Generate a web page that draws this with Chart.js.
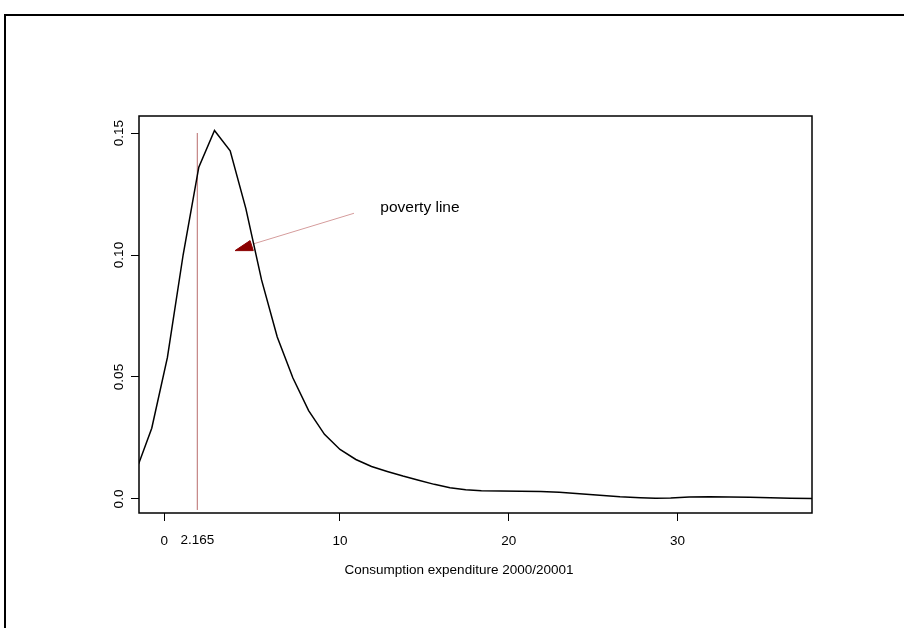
<!DOCTYPE html>
<html><head><meta charset="utf-8">
<script src="https://cdn.jsdelivr.net/npm/chart.js@4/dist/chart.umd.min.js"></script>
<style>html,body{margin:0;padding:0;background:#fff}#wrap{width:904px;height:628px;position:relative}</style>
</head><body><div id="wrap"><canvas id="c" width="904" height="628"></canvas></div>
<script>
// ---- data ----
const densityX = [-1.94, -1.16, -0.23, 0.70, 1.63, 2.56, 3.49, 4.42, 5.35, 6.28, 7.21, 8.14, 9.08, 10.0, 10.94, 11.87, 12.80, 13.73, 14.66, 15.59, 16.52, 17.45, 18.38, 19.5, 20.7, 21.9, 23.0, 24.2, 25.4, 26.6, 27.8, 28.7, 29.6, 30.7, 31.9, 33.1, 34.3, 35.5, 36.7, 38.0];
const densityY = [0.0143, 0.029, 0.058, 0.100, 0.136, 0.151, 0.1427, 0.119, 0.0898, 0.0664, 0.0496, 0.0362, 0.0265, 0.0203, 0.0162, 0.0133, 0.0113, 0.0094, 0.0077, 0.0060, 0.0046, 0.0038, 0.0034, 0.0033, 0.0032, 0.0031, 0.0028, 0.0022, 0.0015, 0.0009, 0.0005, 0.0003, 0.0004, 0.0008, 0.0009, 0.0008, 0.0007, 0.0005, 0.0003, 0.0002];
const xTickValues = [-0.42, 10, 20, 30];
const xTickLabels = ["0", "10", "20", "30"];
const yTickValues = [0, 0.05, 0.10, 0.15];
const yTickLabels = ["0.0", "0.05", "0.10", "0.15"];
const povertyLineX = 1.54;
const povertyLineY = [-0.0045, 0.15];
const povertyLabel = "2.165";
const arrowLineX = [10.83, 4.84];
const arrowLineY = [0.1171, 0.1045];
const arrowHeadX = [3.78, 4.67, 4.86, 3.78];
const arrowHeadY = [0.1018, 0.1059, 0.1018, 0.1018];
const annotationText = "poverty line";
const annotationX = 14.74;
const annotationY = 0.1193;
const xTitle = "Consumption expenditure 2000/20001";
const xRange = [-1.915, 37.98];
const yRange = [-0.00574, 0.15697];

const FONT = "'Liberation Sans', Arial, Helvetica, sans-serif";
const AXIS_PX = 13.5;
Chart.defaults.font.family = FONT;
Chart.defaults.font.size = AXIS_PX;
Chart.defaults.color = '#000';

const pts = (xs, ys) => xs.map((x, i) => ({x: x, y: ys[i]}));

const decor = {
  id: 'decor',
  afterDraw(chart) {
    const ctx = chart.ctx, a = chart.chartArea;
    const xs = chart.scales.x, ys = chart.scales.y;
    ctx.save();
    // outer frame
    ctx.fillStyle = '#000';
    ctx.fillRect(4, 14, 900, 2);
    ctx.fillRect(4, 14, 2, 614);
    // plot box
    ctx.strokeStyle = '#000';
    ctx.lineWidth = 1.5;
    ctx.strokeRect(a.left, a.top, a.right - a.left, a.bottom - a.top);
    // y tick labels (rotated like R)
    ctx.font = AXIS_PX + 'px ' + FONT;
    ctx.fillStyle = '#000';
    ctx.textAlign = 'center';
    ctx.textBaseline = 'middle';
    yTickValues.forEach((v, i) => {
      const py = ys.getPixelForValue(v);
      ctx.save();
      ctx.translate(a.left - 19.5, py);
      ctx.rotate(-Math.PI / 2);
      ctx.fillText(yTickLabels[i], 0, 0);
      ctx.restore();
    });
    // poverty label under axis
    ctx.fillText(povertyLabel, xs.getPixelForValue(povertyLineX), a.bottom + 27.5);
    // axis title
    ctx.fillText(xTitle, a.left + (a.right - a.left) * 0.4755, a.bottom + 57);
    // annotation
    ctx.font = '15.5px ' + FONT;
    ctx.fillText(annotationText, xs.getPixelForValue(annotationX), ys.getPixelForValue(annotationY));
    ctx.restore();
  }
};

new Chart(document.getElementById('c'), {
  type: 'line',
  data: {
    datasets: [
      {data: pts(densityX, densityY), borderColor: '#000', borderWidth: 1.5, pointRadius: 0, tension: 0, fill: false},
      {data: povertyLineY.map(y => ({x: povertyLineX, y: y})), borderColor: '#b86b6b', borderWidth: 1, pointRadius: 0, fill: false},
      {data: pts(arrowLineX, arrowLineY), borderColor: '#d59c9c', borderWidth: 1, pointRadius: 0, fill: false},
      {data: pts(arrowHeadX, arrowHeadY), borderColor: '#8b0000', backgroundColor: '#8b0000', borderWidth: 1, pointRadius: 0, fill: 'shape'}
    ]
  },
  options: {
    animation: false, responsive: false, events: [],
    plugins: {legend: {display: false}, tooltip: {enabled: false}},
    layout: {padding: {left: 0, top: 116, right: 92, bottom: 0}},
    scales: {
      x: {
        type: 'linear', min: xRange[0], max: xRange[1],
        afterBuildTicks: s => { s.ticks = xTickValues.map(v => ({value: v})); },
        afterFit: s => { s.height = 115; },
        grid: {drawOnChartArea: false, drawTicks: true, tickLength: 8, color: '#000', lineWidth: 1},
        border: {display: false},
        ticks: {callback: (v, i) => xTickLabels[i], padding: 12, maxRotation: 0, minRotation: 0, autoSkip: false, color: '#000', font: {size: AXIS_PX}}
      },
      y: {
        type: 'linear', min: yRange[0], max: yRange[1],
        afterBuildTicks: s => { s.ticks = yTickValues.map(v => ({value: v})); },
        afterFit: s => { s.width = 139; },
        grid: {drawOnChartArea: false, drawTicks: true, tickLength: 8, color: '#000', lineWidth: 1},
        border: {display: false},
        ticks: {display: false}
      }
    }
  },
  plugins: [decor]
});
</script></body></html>
